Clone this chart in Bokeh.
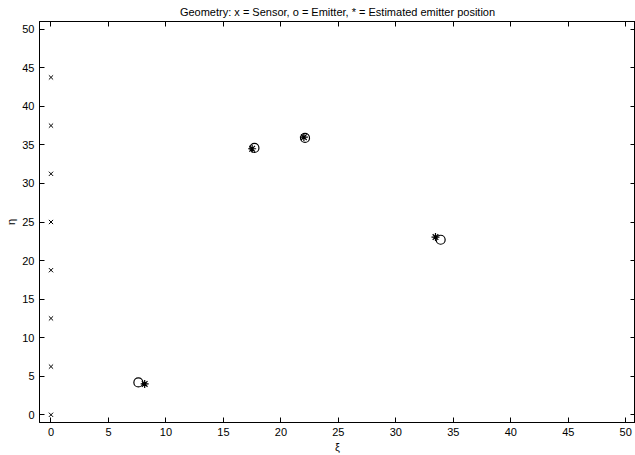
from bokeh.plotting import figure
from bokeh.models import LinearAxis, FixedTicker, Range1d
from bokeh.embed import file_html
from bokeh.resources import INLINE

# Data
sensor_x = [0, 0, 0, 0, 0, 0, 0, 0]
sensor_y = [0, 6.25, 12.5, 18.75, 25, 31.25, 37.5, 43.75]
emitter_x = [7.6, 17.7, 22.1, 33.9]
emitter_y = [4.2, 34.6, 35.9, 22.7]
est_x = [8.15, 17.5, 22.0, 33.45]
est_y = [4.0, 34.5, 36.0, 23.05]
x_ticks = [0, 5, 10, 15, 20, 25, 30, 35, 40, 45, 50]
y_ticks = [0, 5, 10, 15, 20, 25, 30, 35, 40, 45, 50]

FONT = "Liberation Sans"

p = figure(width=635, height=455, output_backend="svg", toolbar_location=None,
           x_range=Range1d(-1.0, 50.85), y_range=Range1d(-1, 51),
           min_border_left=39, min_border_right=0, min_border_top=21,
           min_border_bottom=33)
p.background_fill_color = "white"
p.border_fill_color = "white"
p.outline_line_color = "black"
p.xgrid.visible = False
p.ygrid.visible = False

p.title.text = "Geometry: x = Sensor, o = Emitter, * = Estimated emitter position"
p.title.align = "center"
p.title.text_font = FONT
p.title.text_font_style = "normal"
p.title.text_font_size = "11px"
p.title.text_color = "black"
p.title.standoff = 7

def style_axis(ax, ticks, labels=True):
    ax.ticker = FixedTicker(ticks=ticks)
    ax.major_tick_in = 5
    ax.major_tick_out = 0
    ax.minor_tick_line_color = None
    ax.axis_line_color = "black"
    ax.major_tick_line_color = "black"
    if labels:
        ax.major_label_text_font = FONT
        ax.major_label_text_font_size = "11px"
        ax.major_label_text_color = "black"
        ax.major_label_standoff = 5
        ax.axis_label_text_font = FONT
        ax.axis_label_text_font_size = "11px"
        ax.axis_label_text_font_style = "normal"
        ax.axis_label_text_color = "black"
        ax.axis_label_standoff = 2
    else:
        ax.major_label_overrides = {t: "" for t in ticks}
        ax.major_label_text_font_size = "1px"
        ax.major_label_standoff = 0

style_axis(p.xaxis[0], x_ticks)
style_axis(p.yaxis[0], y_ticks)
p.xaxis[0].axis_label = "ξ"
p.yaxis[0].axis_label = "η"

top_ax = LinearAxis()
right_ax = LinearAxis()
style_axis(top_ax, x_ticks, labels=False)
style_axis(right_ax, y_ticks, labels=False)
p.add_layout(top_ax, "above")
p.add_layout(right_ax, "right")

p.scatter(sensor_x, sensor_y, marker="x", size=6, line_color="black", line_width=1)
p.scatter(emitter_x, emitter_y, marker="circle", size=9, line_color="black",
          fill_color=None, line_width=1.2)
p.scatter(est_x, est_y, marker="asterisk", size=8, line_color="black", line_width=1.2)

open("out.html", "w").write(file_html(p, INLINE))
